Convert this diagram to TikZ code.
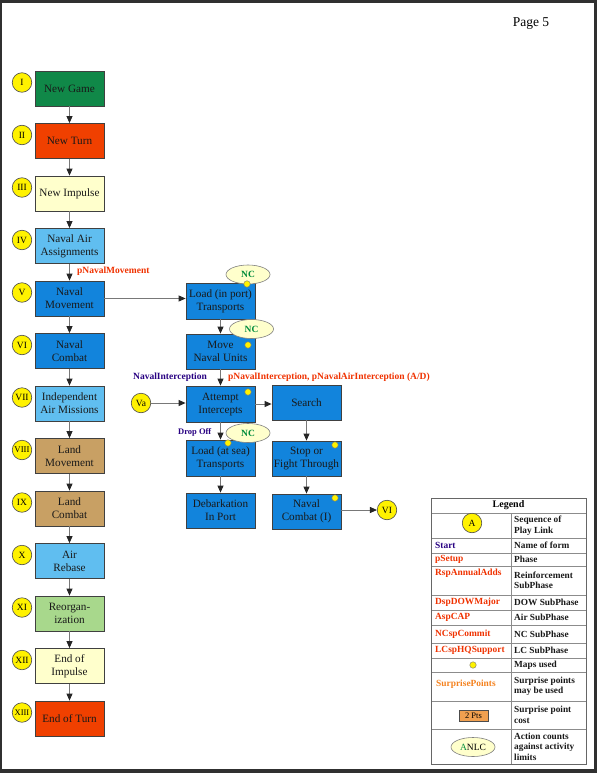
\documentclass[tikz,border=0pt]{standalone}
\usepackage{fontspec}
\setmainfont{Liberation Serif}
\usetikzlibrary{arrows.meta,shapes.geometric}
\definecolor{cgreen}{RGB}{16,136,72}
\definecolor{corange}{RGB}{240,64,0}
\definecolor{clyellow}{RGB}{255,255,204}
\definecolor{clblue}{RGB}{96,190,240}
\definecolor{cblue}{RGB}{18,132,220}
\definecolor{ctan}{RGB}{200,160,100}
\definecolor{clgreen}{RGB}{168,216,140}
\definecolor{cred}{RGB}{240,50,0}
\definecolor{cnavy}{RGB}{40,0,130}
\definecolor{csp}{RGB}{245,130,30}
\definecolor{cpts}{RGB}{240,160,80}
\definecolor{cncgreen}{RGB}{0,140,60}
\definecolor{cframe}{RGB}{48,48,48}
\definecolor{cline}{RGB}{120,120,120}
\tikzset{
  box/.style={rectangle, draw=black!75, line width=0.8pt, minimum width=69pt, minimum height=35pt,
    inner sep=0pt, align=center, font=\fontsize{11.2}{13}\selectfont, text=black!90},
  seq/.style={circle, fill=yellow, draw=black!70, line width=0.6pt, minimum size=19.5pt, inner sep=0pt,
    font=\fontsize{9.5}{10}\selectfont},
  ncell/.style={ellipse, fill=clyellow, draw=black!50, line width=0.6pt, minimum width=44pt, minimum height=19pt,
    inner sep=0pt, font=\bfseries\fontsize{9.5}{10}\selectfont, text=cncgreen},
  mapdot/.style={circle, fill=yellow, draw=black!55, line width=0.4pt, minimum size=6.5pt, inner sep=0pt},
  arr/.style={draw=cline, line width=0.9pt, -{Triangle[length=7pt,width=6pt,color=black!85]}},
  phlabel/.style={anchor=west, inner sep=0pt, font=\bfseries\fontsize{9.5}{10}\selectfont, text=cred},
  formlabel/.style={anchor=west, inner sep=0pt, font=\bfseries\fontsize{9}{10}\selectfont, text=cnavy},
  legl/.style={anchor=west, inner sep=0pt, font=\bfseries\fontsize{9.4}{10}\selectfont},
  legr/.style={anchor=west, inner sep=0pt, align=left, font=\bfseries\fontsize{9.3}{10.5}\selectfont, text=black!90},
  legline/.style={draw=black!45, line width=0.8pt}
}
\begin{document}
\begin{tikzpicture}[x=1pt,y=-1pt]
\useasboundingbox (0,0) rectangle (597,773);
% frame
\fill[cframe] (0,0) rectangle (597,773);
\fill[white] (1.5,3) rectangle (594,769);
\node[anchor=center, inner sep=0pt, font=\fontsize{13.5}{15}\selectfont] (page) at (531,24) {Page 5};

% left column
\node[box, fill=cgreen]   (n0)  at (69.5,88.5)  {New Game};
\node[box, fill=corange]  (n1)  at (69.5,141)   {New Turn};
\node[box, fill=clyellow] (n2)  at (69.5,193.5) {New Impulse};
\node[box, fill=clblue]   (n3)  at (69.5,246)   {Naval Air\\Assignments};
\node[box, fill=cblue]    (n4)  at (69.5,298.5) {Naval\\Movement};
\node[box, fill=cblue]    (n5)  at (69.5,351)   {Naval\\Combat};
\node[box, fill=clblue]   (n6)  at (69.5,403.5) {Independent\\Air Missions};
\node[box, fill=ctan]     (n7)  at (69.5,456)   {Land\\Movement};
\node[box, fill=ctan]     (n8)  at (69.5,508.5) {Land\\Combat};
\node[box, fill=clblue]   (n9)  at (69.5,561)   {Air\\Rebase};
\node[box, fill=clgreen]  (n10) at (69.5,613.5) {Reorgan-\\ization};
\node[box, fill=clyellow] (n11) at (69.5,666)   {End of\\Impulse};
\node[box, fill=corange]  (n12) at (69.5,718.5) {End of Turn};

\node[seq] (c0)  at (22,82.5)  {I};
\node[seq] (c1)  at (22,135)   {II};
\node[seq] (c2)  at (22,187.5) {III};
\node[seq] (c3)  at (22,240)   {IV};
\node[seq] (c4)  at (22,292.5) {V};
\node[seq] (c5)  at (22,345)   {VI};
\node[seq] (c6)  at (22,397.5) {VII};
\node[seq, font=\fontsize{8.8}{9}\selectfont] (c7)  at (22,450)   {VIII};
\node[seq] (c8)  at (22,502.5) {IX};
\node[seq] (c9)  at (22,555)   {X};
\node[seq] (c10) at (22,607.5) {XI};
\node[seq] (c11) at (22,660)   {XII};
\node[seq, font=\fontsize{8.5}{9}\selectfont] (c12) at (22,712.5) {XIII};

\foreach \a/\b in {n0/n1,n1/n2,n2/n3,n3/n4,n4/n5,n5/n6,n6/n7,n7/n8,n8/n9,n9/n10,n10/n11,n11/n12}
  \draw[arr] (\a.south) -- (\b.north);

% middle column
\node[box, fill=cblue, minimum height=36pt] (L1) at (220.5,301)   {Load (in port)\\Transports};
\node[box, fill=cblue] (M)   at (220.5,351.5) {Move\\Naval Units};
\node[box, fill=cblue, minimum height=36pt] (AI)  at (220.5,404)   {Attempt\\Intercepts};
\node[box, fill=cblue] (S)   at (306.5,402.5) {Search};
\node[box, fill=cblue, minimum height=36pt] (LS)  at (220.5,458)   {Load (at sea)\\Transports};
\node[box, fill=cblue] (SF)  at (306.5,458.5) {Stop or\\Fight Through};
\node[box, fill=cblue] (D)   at (220.5,510.5) {Debarkation\\In Port};
\node[box, fill=cblue] (NCI) at (306.5,511.5) {Naval\\Combat (I)};
\node[seq] (Va)  at (141,403) {Va};
\node[seq] (VIb) at (387,510) {VI};

\node[ncell] (nc1) at (248,274.5) {NC};
\node[ncell] (nc2) at (251.5,329) {NC};
\node[ncell] (nc3) at (248,433)   {NC};

\node[mapdot] (d1) at (247,284) {};
\node[mapdot] (d2) at (248,345) {};
\node[mapdot] (d3) at (248,392) {};
\node[mapdot] (d4) at (228,443) {};
\node[mapdot] (d5) at (335,445) {};
\node[mapdot] (d6) at (335,498) {};

\draw[arr] (n4.east) -- (L1.west |- n4.east);
\draw[arr] (L1.south) -- (M.north);
\draw[arr] (M.south) -- (AI.north);
\draw[arr] (Va.east) -- (AI.west |- Va.east);
\draw[arr] (AI.east) -- (S.west |- AI.east);
\draw[arr] (AI.south) -- (LS.north);
\draw[arr] (LS.south) -- (D.north);
\draw[arr] (S.south) -- (SF.north);
\draw[arr] (SF.south) -- (NCI.north);
\draw[arr] (NCI.east |- VIb.west) -- (VIb.west);

% labels
\node[phlabel] (lb1) at (77,271.5) {pNavalMovement};
\node[formlabel, font=\bfseries\fontsize{9.5}{10}\selectfont] (lb2) at (133,377.5) {NavalInterception};
\node[phlabel] (lb3) at (228,377.5) {pNavalInterception, pNavalAirInterception (A/D)};
\node[formlabel, font=\bfseries\fontsize{8.5}{10}\selectfont] (lb4) at (178,432) {Drop Off};

% legend
\fill[white] (431,498) rectangle (586,764);
\foreach \yy in {513,538,553,566,595,610,625,643,658,672,701,729}
  \draw[legline] (431,\yy) -- (586,\yy);
\draw[legline] (511,513) -- (511,764);
\draw[draw=black!60, line width=1pt] (431,498) rectangle (586,764);
\node[inner sep=0pt, font=\bfseries\fontsize{10}{11}\selectfont] (legt) at (508.5,505.5) {Legend};

\node[seq] (lgA) at (472,523) {A};
\node[legr] (r1) at (514,525.5) {Sequence of\\Play Link};
\node[legl, text=cnavy] (l2) at (435,545.5) {Start};
\node[legr] (r2) at (514,545.5) {Name of form};
\node[legl, text=cred] (l3) at (435,559.5) {pSetup};
\node[legr] (r3) at (514,559.5) {Phase};
\node[legl, text=cred] (l4) at (435,573.5) {RspAnnualAdds};
\node[legr] (r4) at (514,580.5) {Reinforcement\\SubPhase};
\node[legl, text=cred] (l5) at (435,602.5) {DspDOWMajor};
\node[legr] (r5) at (514,602.5) {DOW SubPhase};
\node[legl, text=cred] (l6) at (435,617.5) {AspCAP};
\node[legr] (r6) at (514,617.5) {Air SubPhase};
\node[legl, text=cred] (l7) at (435,634) {NCspCommit};
\node[legr] (r7) at (514,634) {NC SubPhase};
\node[legl, text=cred] (l8) at (435,650.5) {LCspHQSupport};
\node[legr] (r8) at (514,650.5) {LC SubPhase};
\node[mapdot] (l9) at (473,665) {};
\node[legr] (r9) at (514,665) {Maps used};
\node[legl, text=csp] (l10) at (436,684) {SurprisePoints};
\node[legr] (r10) at (514,686.5) {Surprise points\\may be used};
\node[rectangle, fill=cpts, draw=black!70, line width=0.6pt, minimum width=29pt, minimum height=11pt, inner sep=0pt,
  font=\fontsize{8.5}{9}\selectfont] (l11) at (473.5,715.5) {2 Pts};
\node[legr] (r11) at (514,715) {Surprise point\\cost};
\node[ncell, font=\fontsize{9.5}{10}\selectfont, text=black] (l12) at (473,747) {\textcolor{cncgreen}{A}NLC};
\node[legr] (r12) at (514,746.5) {Action counts\\against activity\\limits};
\end{tikzpicture}
\end{document}
